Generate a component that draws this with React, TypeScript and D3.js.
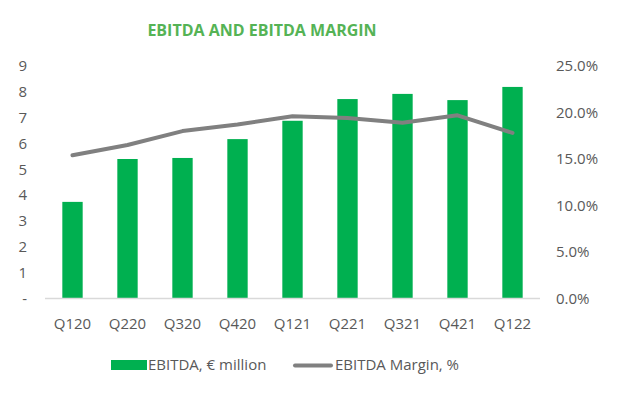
import React, { useRef, useEffect } from 'react';
import * as d3 from 'd3';

// quarters on the x axis
const quarters = ['Q120', 'Q220', 'Q320', 'Q420', 'Q121', 'Q221', 'Q321', 'Q421', 'Q122'];
// EBITDA, € million (bars, left axis)
const ebitda = [3.74, 5.4, 5.44, 6.17, 6.88, 7.72, 7.92, 7.68, 8.19];
// EBITDA margin, % (line, right axis)
const margin_pct = [15.4, 16.5, 18.0, 18.7, 19.6, 19.4, 18.9, 19.7, 17.8];
const leftTicks = [0, 1, 2, 3, 4, 5, 6, 7, 8, 9];
const rightTicks = [0, 5, 10, 15, 20, 25];

const App = () => {
    const svgRef = useRef<SVGSVGElement>(null);
    const width = 617, height = 395;
    const font = "'Open Sans', sans-serif";

    useEffect(() => {
        const svg = d3.select(svgRef.current);
        svg.selectAll('*').remove();

        const x = d3.scaleBand().domain(quarters).range([45, 540]).paddingInner(0.63).paddingOuter(0.315);
        const y = d3.scaleLinear().domain([0, 9]).range([298.5, 66]);
        const y2 = d3.scaleLinear().domain([0, 25]).range([298.5, 66]);

        // title
        svg.append('text')
            .attr('x', 262).attr('y', 36)
            .attr('text-anchor', 'middle')
            .attr('font-family', font).attr('font-weight', 'bold').attr('font-size', 16)
            .attr('fill', '#55B355')
            .text('EBITDA AND EBITDA MARGIN');

        // bars
        svg.append('g').attr('fill', '#00B050')
            .selectAll('rect')
            .data(quarters)
            .join('rect')
            .attr('x', d => x(d)!)
            .attr('width', x.bandwidth())
            .attr('y', (d, i) => y(ebitda[i]))
            .attr('height', (d, i) => y(0) - y(ebitda[i]));

        // baseline
        svg.append('line')
            .attr('x1', 45).attr('x2', 540)
            .attr('y1', y(0)).attr('y2', y(0))
            .attr('stroke', '#D9D9D9').attr('stroke-width', 1.5);

        // margin line
        const line = d3.line<number>()
            .x((d, i) => x(quarters[i])! + x.bandwidth() / 2)
            .y(d => y2(d));
        svg.append('path')
            .datum(margin_pct)
            .attr('d', line)
            .attr('fill', 'none')
            .attr('stroke', '#808080')
            .attr('stroke-width', 4)
            .attr('stroke-linecap', 'round')
            .attr('stroke-linejoin', 'round');

        const tickStyle = (g: any) => g
            .attr('font-family', font).attr('font-size', 15).attr('fill', '#595959');

        // left axis labels
        svg.append('g').call(tickStyle)
            .selectAll('text')
            .data(leftTicks)
            .join('text')
            .attr('x', 27)
            .attr('y', d => y(d))
            .attr('dy', '0.35em')
            .attr('text-anchor', 'end')
            .text(d => d === 0 ? '-' : String(d));

        // right axis labels
        svg.append('g').call(tickStyle)
            .selectAll('text')
            .data(rightTicks)
            .join('text')
            .attr('x', 556)
            .attr('y', d => y2(d))
            .attr('dy', '0.35em')
            .text(d => d3.format('.1f')(d) + '%');

        // x axis labels
        svg.append('g').call(tickStyle)
            .selectAll('text')
            .data(quarters)
            .join('text')
            .attr('x', d => x(d)! + x.bandwidth() / 2)
            .attr('y', 324)
            .attr('dy', '0.35em')
            .attr('text-anchor', 'middle')
            .text(d => d);

        // legend
        const legend = svg.append('g').call(tickStyle);
        legend.append('rect')
            .attr('x', 111).attr('y', 360).attr('width', 36).attr('height', 10)
            .attr('fill', '#00B050');
        legend.append('text')
            .attr('x', 148).attr('y', 365).attr('dy', '0.35em')
            .text('EBITDA, € million');
        legend.append('line')
            .attr('x1', 295).attr('x2', 331).attr('y1', 365.5).attr('y2', 365.5)
            .attr('stroke', '#808080').attr('stroke-width', 4).attr('stroke-linecap', 'round');
        legend.append('text')
            .attr('x', 335).attr('y', 365).attr('dy', '0.35em')
            .text('EBITDA Margin, %');
    }, []);

    return (
        <div style={{ position: 'absolute', left: 0, top: 0 }}>
            <svg ref={svgRef} width={width} height={height} style={{ display: 'block', background: '#fff' }} />
        </div>
    );
};

export default App;
